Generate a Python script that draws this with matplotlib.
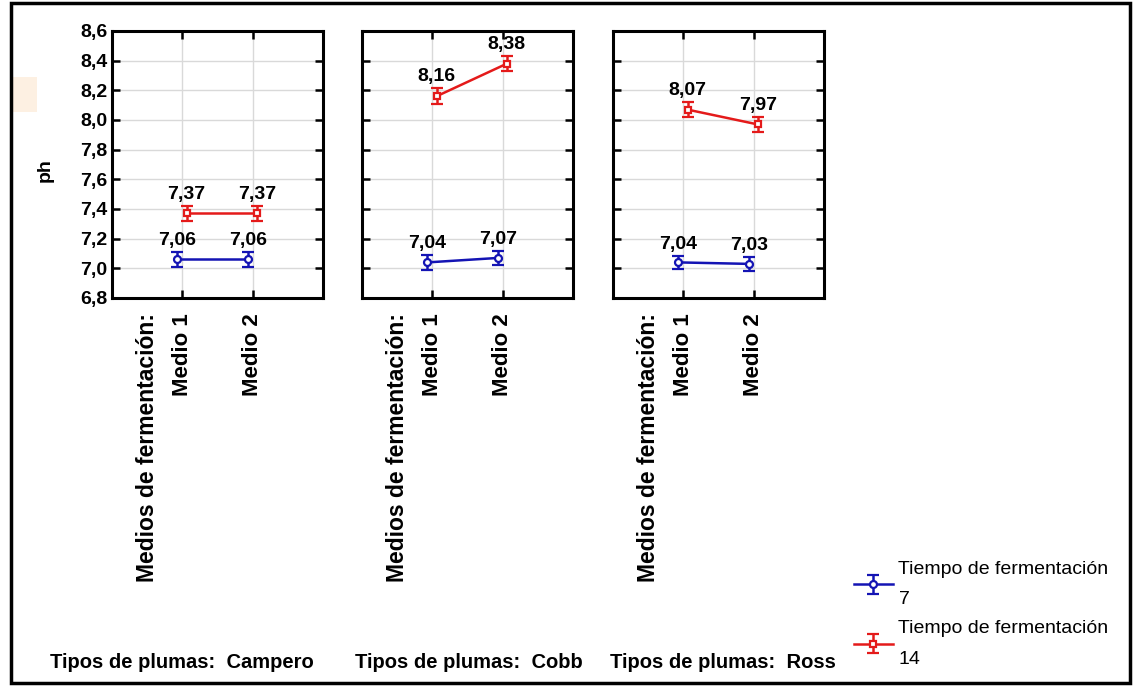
import matplotlib
matplotlib.use("Agg")
import matplotlib.pyplot as plt
from matplotlib.patches import Rectangle

plt.rcParams["font.family"] = ["Liberation Sans", "DejaVu Sans"]

# data
plumas = ["Campero", "Cobb", "Ross"]
medios = ["Medio 1", "Medio 2"]
t7_means = [[7.06, 7.06], [7.04, 7.07], [7.04, 7.03]]
t14_means = [[7.37, 7.37], [8.16, 8.38], [8.07, 7.97]]
t7_err = [[0.05, 0.05], [0.05, 0.05], [0.045, 0.045]]
t14_err = [[0.05, 0.05], [0.055, 0.05], [0.05, 0.05]]
series_labels = ["Tiempo de fermentación\n7", "Tiempo de fermentación\n14"]
y_ticks = [6.8, 7.0, 7.2, 7.4, 7.6, 7.8, 8.0, 8.2, 8.4, 8.6]

BLUE = "#1414b4"
RED = "#e41a1a"

fig = plt.figure(figsize=(11.4, 6.86), dpi=100)

W, H = 1140, 686
lefts = [112, 362, 613]
ax_w = 211
ax_top, ax_bot = 31, 298

def fmt(v):
    return f"{v:.2f}".replace(".", ",")

axes = []
for i, name in enumerate(plumas):
    ax = fig.add_axes([
        lefts[i] / W,
        1 - ax_bot / H,
        ax_w / W,
        (ax_bot - ax_top) / H,
    ])
    axes.append(ax)

    xs = [1, 2]
    handles = []
    for means, errs, color, marker, off, lab in [
        (t7_means[i], t7_err[i], BLUE, "o", -0.07, series_labels[0]),
        (t14_means[i], t14_err[i], RED, "s", 0.06, series_labels[1]),
    ]:
        xpos = [x + off for x in xs]
        h = ax.errorbar(
            xpos, means, yerr=errs,
            color=color, marker=marker, markersize=5,
            markerfacecolor="white", markeredgewidth=1.6,
            linewidth=1.8, elinewidth=1.8, capsize=4, capthick=1.8,
            label=lab, zorder=3,
        )
        handles.append(h)
        for x, m, e in zip(xpos, means, errs):
            ax.annotate(
                fmt(m), (x, m + e), xytext=(0, 2), textcoords="offset points",
                ha="center", va="bottom", fontsize=14, fontweight="bold",
            )

    ax.set_xlim(0, 3)
    ax.set_ylim(6.8, 8.6)
    ax.set_yticks(y_ticks)
    ax.set_xticks(xs)
    ax.grid(True, color="#d9d9d9", linewidth=1.0, zorder=0)
    ax.set_axisbelow(True)
    for s in ax.spines.values():
        s.set_linewidth(2.2)
    ax.tick_params(direction="in", length=6, width=1.8,
                   top=True, right=True, labelsize=14)
    if i == 0:
        ax.set_yticklabels([fmt(v)[:-1] for v in y_ticks], fontweight="bold")
    else:
        ax.set_yticklabels([])
    ax.set_xticklabels(medios, rotation=90, fontsize=16, fontweight="bold",
                       va="top", ha="center")
    ax.tick_params(axis="x", pad=11)

    ax.text(0.5, -0.055, "Medios de fermentación:", transform=ax.get_xaxis_transform(),
            rotation=90, ha="center", va="top", fontsize=16.5, fontweight="bold")

# bottom panel titles
title_lefts = [50, 355, 610]
for name, tl in zip(plumas, title_lefts):
    fig.text(tl / W, 1 - 662 / H, f"Tipos de plumas:  {name}",
             ha="left", va="center", fontsize=14.5, fontweight="bold")

fig.text(45 / W, 1 - 170 / H, "ph", rotation=90, ha="center", va="center",
         fontsize=14, fontweight="bold")

leg = fig.legend(handles=handles, labels=series_labels,
                 loc="upper left", bbox_to_anchor=(846 / W, 1 - 553 / H),
                 frameon=False, fontsize=14, handlelength=2.0, handletextpad=0.3,
                 labelspacing=0.6, borderaxespad=0)
for t in leg.get_texts():
    t.set_linespacing(2.05)

# faint orange artifact and outer frame
fig.patches.append(Rectangle((12 / W, 1 - 112 / H), 25 / W, 35 / H,
                             transform=fig.transFigure, facecolor="#fdf0e2",
                             edgecolor="none", zorder=0))
fig.patches.append(Rectangle((11 / W, 3 / H), 1119 / W, 680 / H,
                             transform=fig.transFigure, facecolor="none",
                             edgecolor="black", linewidth=2.5, zorder=5))

fig.savefig("out.png", dpi=100)
plt.close()
